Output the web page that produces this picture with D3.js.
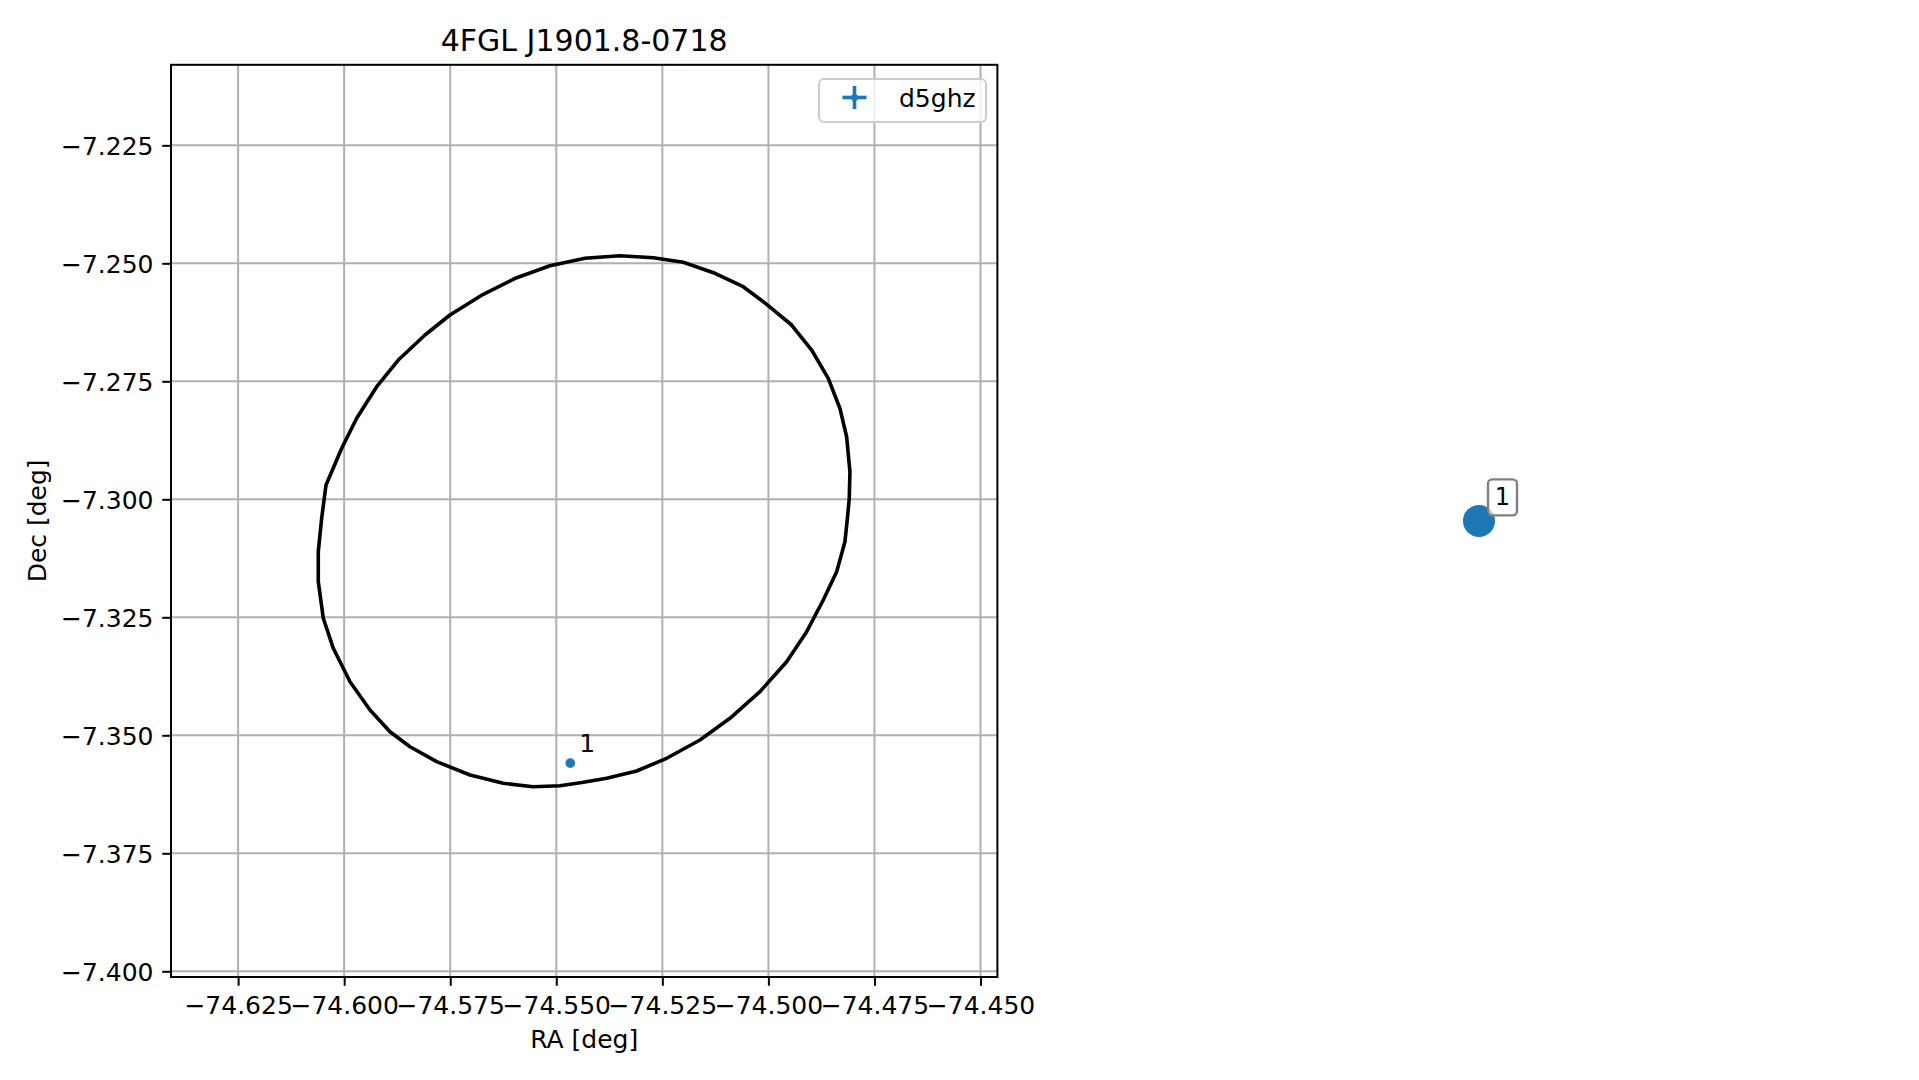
<!DOCTYPE html>
<html>
<head>
<meta charset="utf-8">
<script src="https://cdn.jsdelivr.net/npm/d3@7"></script>
<style>
  html, body { margin: 0; padding: 0; background: #fff; }
  svg { display: block; font-family: "DejaVu Sans", sans-serif; }
</style>
</head>
<body>
<svg id="chart" width="1919" height="1080"></svg>
<script>
// ---- data ----
const title = "4FGL J1901.8-0718";
const xLabel = "RA [deg]";
const yLabel = "Dec [deg]";
const seriesName = "d5ghz";
const xTicks = [-74.625, -74.600, -74.575, -74.550, -74.525, -74.500, -74.475, -74.450];
const yTicks = [-7.225, -7.250, -7.275, -7.300, -7.325, -7.350, -7.375, -7.400];
const xDomain = [-74.64082, -74.44602];
const yDomain = [-7.40121, -7.20794];

// 4FGL error ellipse vertices (RA, Dec)
const ellipseRA = [-74.53499,-74.52714,-74.52007,-74.51260,-74.50593,-74.50041,-74.49452,-74.48981,-74.48589,-74.48314,
  -74.48156,-74.48078,-74.48094,-74.48137,-74.48196,-74.48391,-74.48707,-74.49098,-74.49570,-74.50199,
  -74.50906,-74.51613,-74.52398,-74.53105,-74.53812,-74.54394,-74.54913,-74.55542,-74.56249,-74.57034,
  -74.57819,-74.58448,-74.58920,-74.59391,-74.59863,-74.60256,-74.60492,-74.60610,-74.60610,-74.60530,
  -74.60428,-74.60294,-74.60058,-74.59705,-74.59233,-74.58724,-74.58095,-74.57506,-74.56721,-74.55934,
  -74.55149,-74.54324];
const ellipseDec = [-7.24839,-7.24881,-7.24979,-7.25212,-7.25496,-7.25869,-7.26307,-7.26837,-7.27436,-7.28072,
  -7.28674,-7.29415,-7.29979,-7.30396,-7.30898,-7.31534,-7.32133,-7.32805,-7.33441,-7.34076,
  -7.34640,-7.35100,-7.35487,-7.35756,-7.35911,-7.36000,-7.36068,-7.36089,-7.36017,-7.35841,
  -7.35559,-7.35242,-7.34924,-7.34464,-7.33864,-7.33157,-7.32521,-7.31746,-7.31110,-7.30396,
  -7.29697,-7.29415,-7.28919,-7.28284,-7.27614,-7.27049,-7.26519,-7.26095,-7.25657,-7.25305,
  -7.25051,-7.24894];

// d5ghz sources
const srcLabels = ["1"];
const srcRA = [-74.5467];
const srcDec = [-7.3559];
const srcRAerr = [0.0];
const srcDecErr = [0.0];

// right panel (source index marker)
const panelX = [0.5];
const panelY = [0.5];
const panelLabels = ["1"];

// ---- layout ----
const svg = d3.select("#chart");
const L = 171, R = 997.4, T = 64.8, B = 977;
const blue = "#1f77b4";
const fs = 25;
const lw = 2.0;

const x = d3.scaleLinear().domain(xDomain).range([L, R]);
const y = d3.scaleLinear().domain(yDomain).range([B, T]);
const fmt = v => d3.format(".3f")(v).replace("-", "\u2212");

// grid
const grid = svg.append("g");
grid.selectAll("line.gx").data(xTicks.filter(v => v >= xDomain[0] && v <= xDomain[1])).join("line")
  .attr("x1", d => x(d)).attr("x2", d => x(d)).attr("y1", T).attr("y2", B)
  .attr("stroke", "#b0b0b0").attr("stroke-width", lw);
grid.selectAll("line.gy").data(yTicks).join("line")
  .attr("y1", d => y(d)).attr("y2", d => y(d)).attr("x1", L).attr("x2", R)
  .attr("stroke", "#b0b0b0").attr("stroke-width", lw);

// ellipse
const ell = ellipseRA.map((v, i) => [v, ellipseDec[i]]);
svg.append("path")
  .attr("d", d3.line().x(d => x(d[0])).y(d => y(d[1])).curve(d3.curveLinearClosed)(ell))
  .attr("fill", "none").attr("stroke", "#000").attr("stroke-width", 3.6).attr("stroke-linejoin", "round");

// sources
const src = srcRA.map((v, i) => ({ra: v, dec: srcDec[i], label: srcLabels[i], ex: srcRAerr[i], ey: srcDecErr[i]}));
const sg = svg.append("g");
sg.selectAll("circle").data(src).join("circle")
  .attr("cx", d => x(d.ra)).attr("cy", d => y(d.dec)).attr("r", 4.8).attr("fill", blue);
sg.selectAll("text").data(src).join("text")
  .attr("x", d => x(d.ra) + 9).attr("y", d => y(d.dec) - 11)
  .attr("font-size", fs).attr("fill", "#000").text(d => d.label);

// axes
const xAxis = d3.axisBottom(x).tickValues(xTicks).tickFormat(fmt).tickSize(8.75).tickPadding(8.75);
const yAxis = d3.axisLeft(y).tickValues(yTicks).tickFormat(fmt).tickSize(8.75).tickPadding(8.75);
const gx = svg.append("g").attr("transform", `translate(0,${B})`).call(xAxis);
const gy = svg.append("g").attr("transform", `translate(${L},0)`).call(yAxis);
[gx, gy].forEach(g => {
  g.select(".domain").remove();
  g.selectAll(".tick line").attr("stroke", "#000").attr("stroke-width", lw);
  g.selectAll(".tick text").attr("font-size", fs).attr("fill", "#000").attr("font-family", "DejaVu Sans");
});
gx.selectAll(".tick text").attr("dy", "0.76em");
gy.selectAll(".tick text").attr("dy", "0.36em");

// spines
svg.append("rect").attr("x", L).attr("y", T).attr("width", R - L).attr("height", B - T)
  .attr("fill", "none").attr("stroke", "#000").attr("stroke-width", lw);

// labels
svg.append("text").attr("x", (L + R) / 2).attr("y", 51).attr("text-anchor", "middle")
  .attr("font-size", 30).attr("fill", "#000").text(title);
svg.append("text").attr("x", (L + R) / 2).attr("y", 1048).attr("text-anchor", "middle")
  .attr("font-size", fs).attr("fill", "#000").text(xLabel);
svg.append("text").attr("transform", `translate(46,${(T + B) / 2}) rotate(-90)`).attr("text-anchor", "middle")
  .attr("font-size", fs).attr("fill", "#000").text(yLabel);

// legend
const lg = svg.append("g");
lg.append("rect").attr("x", 819).attr("y", 79).attr("width", 167).attr("height", 43).attr("rx", 5)
  .attr("fill", "#fff").attr("fill-opacity", 0.8).attr("stroke", "#cccccc").attr("stroke-width", 2);
lg.append("line").attr("x1", 842.5).attr("x2", 866.5).attr("y1", 97.5).attr("y2", 97.5)
  .attr("stroke", blue).attr("stroke-width", 3.6);
lg.append("line").attr("x1", 854.5).attr("x2", 854.5).attr("y1", 86).attr("y2", 109)
  .attr("stroke", blue).attr("stroke-width", 3.6);
lg.append("circle").attr("cx", 854.5).attr("cy", 97.5).attr("r", 3.5).attr("fill", blue);
lg.append("text").attr("x", 899).attr("y", 106.5).attr("font-size", fs).attr("fill", "#000").text(seriesName);

// right panel (axes hidden)
const px = d3.scaleLinear().domain([0, 1]).range([1060, 1898]);
const py = d3.scaleLinear().domain([0, 1]).range([B, T]);
const pdata = panelX.map((v, i) => ({x: v, y: panelY[i], label: panelLabels[i]}));
const pg = svg.append("g");
pg.selectAll("circle").data(pdata).join("circle")
  .attr("cx", d => px(d.x)).attr("cy", d => py(d.y)).attr("r", 16).attr("fill", blue);
pdata.forEach(d => {
  const cx = px(d.x), cy = py(d.y);
  pg.append("rect").attr("x", cx + 9).attr("y", cy - 41.5).attr("width", 29).attr("height", 36).attr("rx", 4.5)
    .attr("fill", "#fff").attr("fill-opacity", 0.7).attr("stroke", "#808080").attr("stroke-width", 2.4);
  pg.append("text").attr("x", cx + 23.5).attr("y", cy - 15.5).attr("text-anchor", "middle")
    .attr("font-size", 24).attr("fill", "#000").text(d.label);
});
</script>
</body>
</html>
